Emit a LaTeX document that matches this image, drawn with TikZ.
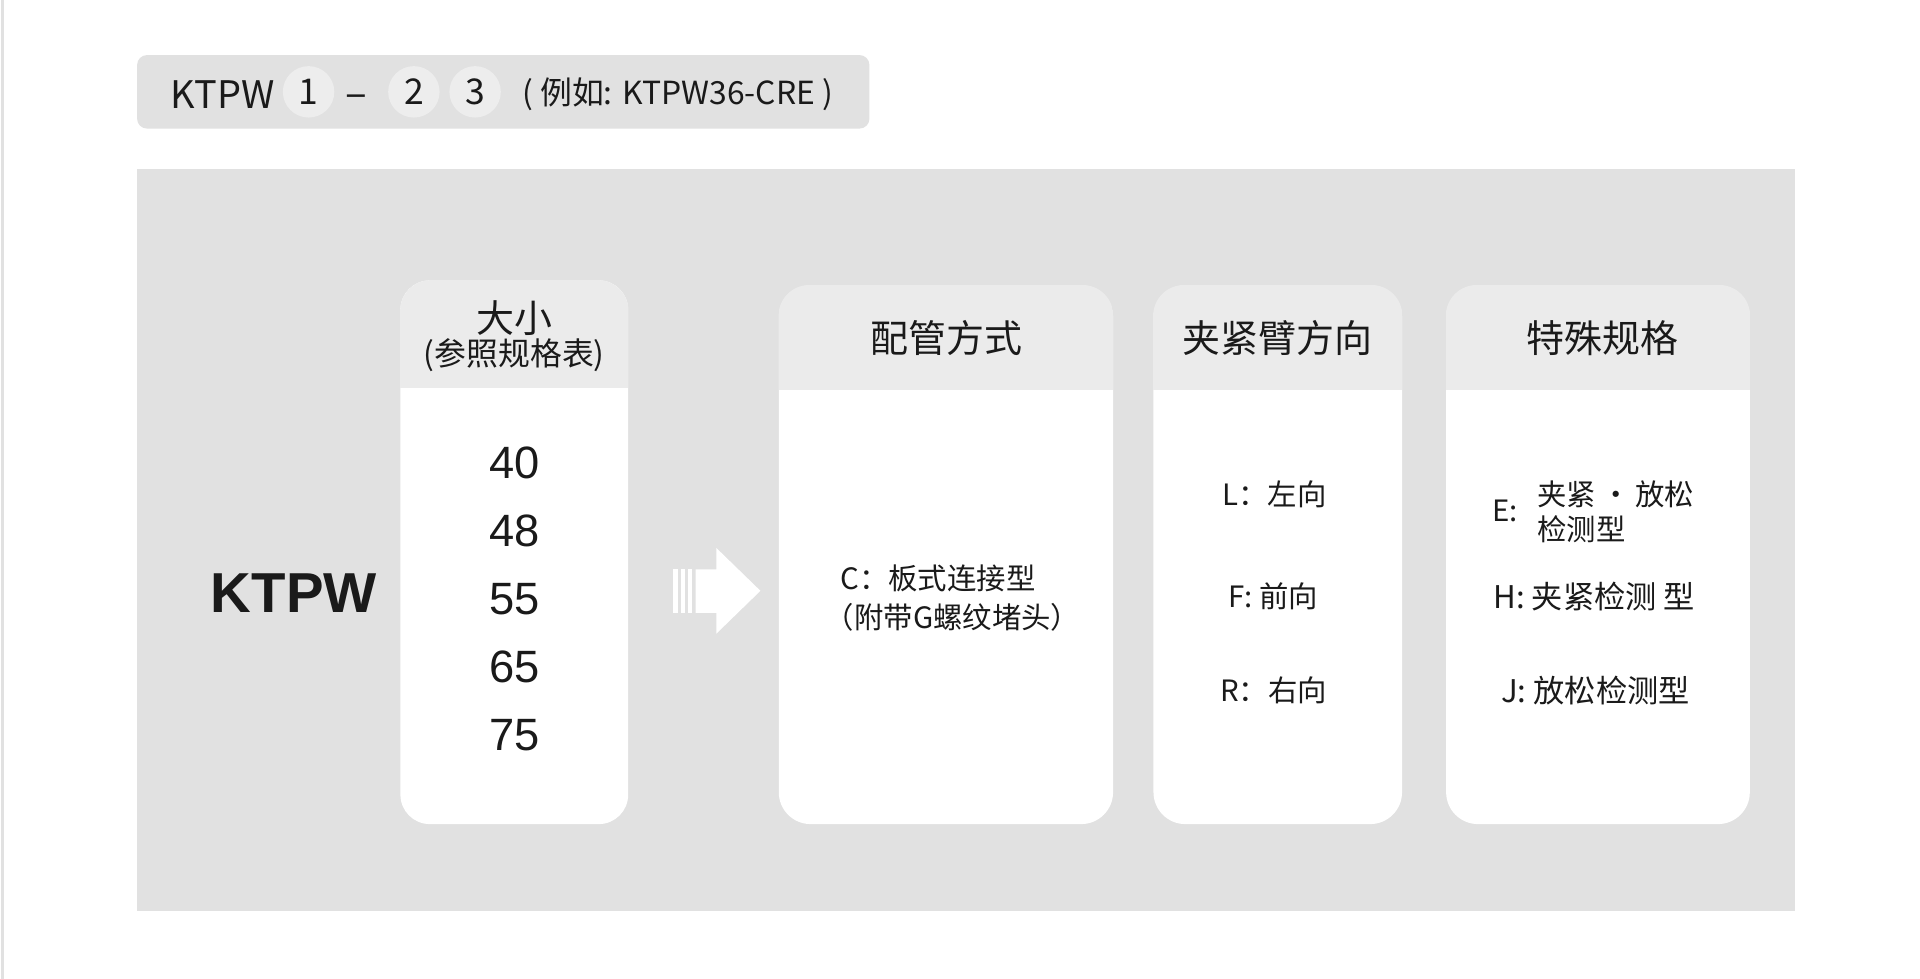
\documentclass[tikz,border=0pt]{standalone}
\usepackage{fontspec}
\setmainfont{Noto Sans CJK SC}
\newfontfamily\arialfont{Liberation Sans}
\usetikzlibrary{positioning}
\usepackage{xcolor}
\definecolor{panelgray}{HTML}{E1E1E1}
\definecolor{bandgray}{HTML}{EBEBEB}
\definecolor{dotgray}{HTML}{EDEDED}
\definecolor{inkblack}{HTML}{1A1A1A}

\begin{document}
\begin{tikzpicture}[
    x=1pt, y=-1pt,
    panel/.style={rectangle, fill=panelgray, inner sep=0pt},
    colbox/.style={rectangle, fill=white, rounded corners=26pt, inner sep=0pt, minimum height=440pt},
    digitdot/.style={circle, fill=dotgray, minimum size=42pt, inner sep=0pt, text=inkblack, font=\fontsize{29}{34}\selectfont},
    headtext/.style={text=inkblack, font=\fontsize{31}{36}\selectfont},
    itemtext/.style={text=inkblack, font=\fontsize{24}{29}\selectfont},
    sizetext/.style={text=inkblack, font=\arialfont\fontsize{37}{42}\selectfont}
]
\useasboundingbox (0,0) rectangle (1568,799.5);
\fill[white] (0,0) rectangle (1568,799.5);
\draw[line width=2pt, draw=panelgray] (2,0) -- (2,799.5);

% code line
\node[panel, rounded corners=8pt, minimum width=598pt, minimum height=60pt] (code) at (411,75) {};
\node[headtext, anchor=west] (series) at (136,77) {KTPW};
\node[digitdot] (d1) at (252,75) {1};
\node[headtext, font=\fontsize{33}{36}\selectfont] (dash) at (291,83) {–};
\node[digitdot] (d2) at (338,75) {2};
\node[digitdot] (d3) at (388,75) {3};
\node[text=inkblack, font=\fontsize{26}{30}\selectfont, anchor=west] (example) at (423,77) {( 例如: KTPW36-CRE )};

% panel and columns
\node[panel, minimum width=1354pt, minimum height=606pt] (panel) at (789,441) {};
\node[colbox, minimum width=186pt, minimum height=444pt, rounded corners=24pt] (size) at (420,451) {};
\node[colbox, minimum width=273pt] (pipe) at (772.5,453) {};
\node[colbox, minimum width=203pt] (arm) at (1043.5,453) {};
\node[colbox, minimum width=248pt] (spec) at (1305,453) {};
\foreach \col/\h in {size/88pt, pipe/86pt, arm/86pt, spec/86pt} {
  \begin{scope}
    \clip[rounded corners=25pt] (\col.south west) rectangle (\col.north east);
    \fill[bandgray] (\col.north west) rectangle ([yshift=-\h]\col.north east);
  \end{scope}
}

% size
\node[headtext] (sizehead) at (420,260) {大小};
\node[text=inkblack, font=\fontsize{26}{30}\selectfont] (sizenote) at (420,290) {(参照规格表)};
\foreach \v [count=\i] in {40,48,55,65,75}
  \node[sizetext] (s\v) at (420,322.5+55.5*\i) {\v};
\node[text=inkblack, font=\arialfont\bfseries\fontsize{46}{50}\selectfont] (model) at (240,484) {KTPW};

% arrow
\fill[white] (550,465) rectangle (553.5,500.6);
\fill[white] (556,465) rectangle (559.5,500.6);
\fill[white] (562,465) rectangle (565.5,500.6);
\fill[white] (568,465) -- (585,465) -- (585,447.5) -- (621,482.5) -- (585,517.5) -- (585,500.6) -- (568,500.6) -- cycle;

% pipe
\node[headtext] (pipehead) at (773,276) {配管方式};
\node[itemtext] (pipec) at (766,472) {C：板式连接型};
\node[itemtext] (pipenote) at (778,504) {（附带G螺纹堵头）};

% arm
\node[headtext] (armhead) at (1043,276) {夹紧臂方向};
\node[itemtext] (arml) at (1041,404) {L：左向};
\node[itemtext] (armf) at (1040,487) {F: 前向};
\node[itemtext] (armr) at (1040,564) {R：右向};

% spec
\node[headtext] (spechead) at (1309,276) {特殊规格};
\node[itemtext] (spece) at (1229,417) {E:};
\node[itemtext, align=left, anchor=west] (specetext) at (1252,418) {夹紧\,·\,放松\\检测型};
\node[itemtext, font=\fontsize{25.5}{30}\selectfont] (spech) at (1302,487) {H: 夹紧检测 型};
\node[itemtext, font=\fontsize{25.5}{30}\selectfont] (specj) at (1303,564) {J: 放松检测型};

\end{tikzpicture}
\end{document}
